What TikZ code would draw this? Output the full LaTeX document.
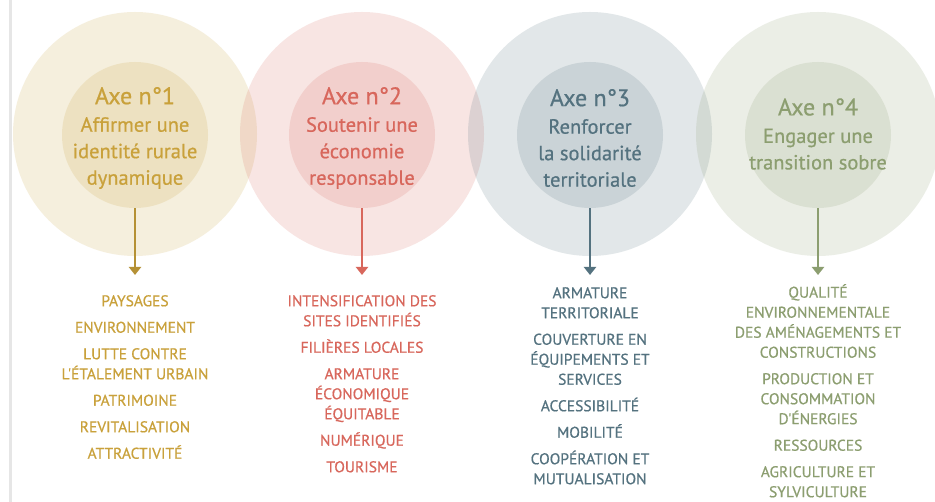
\documentclass[tikz,border=0pt]{standalone}
\usepackage{fontspec}
\setmainfont{PT Sans}
\newfontfamily\epais[FakeBold=0.6]{PT Sans}
\usetikzlibrary{arrows.meta}
\definecolor{gold}{HTML}{C9A13B}
\definecolor{rouge}{HTML}{D8675C}
\definecolor{ardoise}{HTML}{54727F}
\definecolor{olive}{HTML}{8C9E70}
\definecolor{bord}{HTML}{E6E6E6}

\tikzset{
  big/.style={circle, fill=#1, fill opacity=0.17, minimum size=244pt, inner sep=0pt},
  inner/.style={circle, fill=#1, fill opacity=0.17, minimum size=146pt, inner sep=0pt},
  titre/.style={text=#1, align=center, font=\epais\fontsize{20.5}{26.5}\selectfont},
  liste/.style={text=#1, align=center, anchor=north, inner sep=0pt, font=\epais\fontsize{15.5}{20}\selectfont},
  fleche/.style={draw=#1, line width=2.5pt, -{Triangle[width=12pt,length=8pt]}}
}
\newcommand{\axe}[1]{{\fontsize{24}{26}\selectfont Axe n°#1}\\[1pt]}

\begin{document}
\begin{tikzpicture}[x=1pt,y=-1pt]
\useasboundingbox (0,0) rectangle (935,502);
\fill[white] (0,0) rectangle (935,502);
\draw[bord, line width=3pt] (10,0) -- (10,502);

% big circles
\node[big=gold] (b1) at (135,134) {};
\node[big=rouge] (b2) at (362,134) {};
\node[big=ardoise] (b3) at (590,134) {};
\node[big=olive] (b4) at (818,134) {};

% inner circles
\node[inner=gold] (c1) at (135,135) {};
\node[inner=rouge] (c2) at (362,135) {};
\node[inner=ardoise] (c3) at (590,135) {};
\node[inner=olive] (c4) at (818,135) {};

% titles
\node[titre=gold] (t1) at ([yshift=-3pt]c1) {\axe{1}Affirmer une\\identité rurale\\dynamique};
\node[titre=rouge] (t2) at ([yshift=-3pt]c2) {\axe{2}Soutenir une\\économie\\responsable};
\node[titre=ardoise] (t3) at ([yshift=-3pt]c3) {\axe{3}Renforcer\\la solidarité\\territoriale};
\node[titre=olive] (t4) at ([yshift=1pt]c4) {\axe{4}Engager une\\transition sobre};

% arrows
\coordinate (a1) at (135,275);
\coordinate (a2) at (362,275);
\coordinate (a3) at (590,275);
\coordinate (a4) at (818,275);
\draw[fleche=gold!90!black] (c1.south) -- (a1);
\draw[fleche=rouge] (c2.south) -- (a2);
\draw[fleche=ardoise] (c3.south) -- (a3);
\draw[fleche=olive] (c4.south) -- (a4);

% lists
\node[liste=gold] (l1) at (135,295) {PAYSAGES\\[6.5pt]ENVIRONNEMENT\\[6.5pt]LUTTE CONTRE\\L'ÉTALEMENT URBAIN\\[6.5pt]PATRIMOINE\\[6.5pt]REVITALISATION\\[6.5pt]ATTRACTIVITÉ};
\node[liste=rouge] (l2) at (362,295) {INTENSIFICATION DES\\SITES IDENTIFIÉS\\[6.5pt]FILIÈRES LOCALES\\[6.5pt]ARMATURE\\ÉCONOMIQUE\\ÉQUITABLE\\[6.5pt]NUMÉRIQUE\\[6.5pt]TOURISME};
\node[liste=ardoise] (l3) at (590,287) {ARMATURE\\TERRITORIALE\\[6.5pt]COUVERTURE EN\\ÉQUIPEMENTS ET\\SERVICES\\[6.5pt]ACCESSIBILITÉ\\[6.5pt]MOBILITÉ\\[6.5pt]COOPÉRATION ET\\MUTUALISATION};
\node[liste=olive] (l4) at (818,284) {QUALITÉ\\ENVIRONNEMENTALE\\DES AMÉNAGEMENTS ET\\CONSTRUCTIONS\\[6.5pt]PRODUCTION ET\\CONSOMMATION\\D'ÉNERGIES\\[6.5pt]RESSOURCES\\[6.5pt]AGRICULTURE ET\\SYLVICULTURE};
\end{tikzpicture}
\end{document}
